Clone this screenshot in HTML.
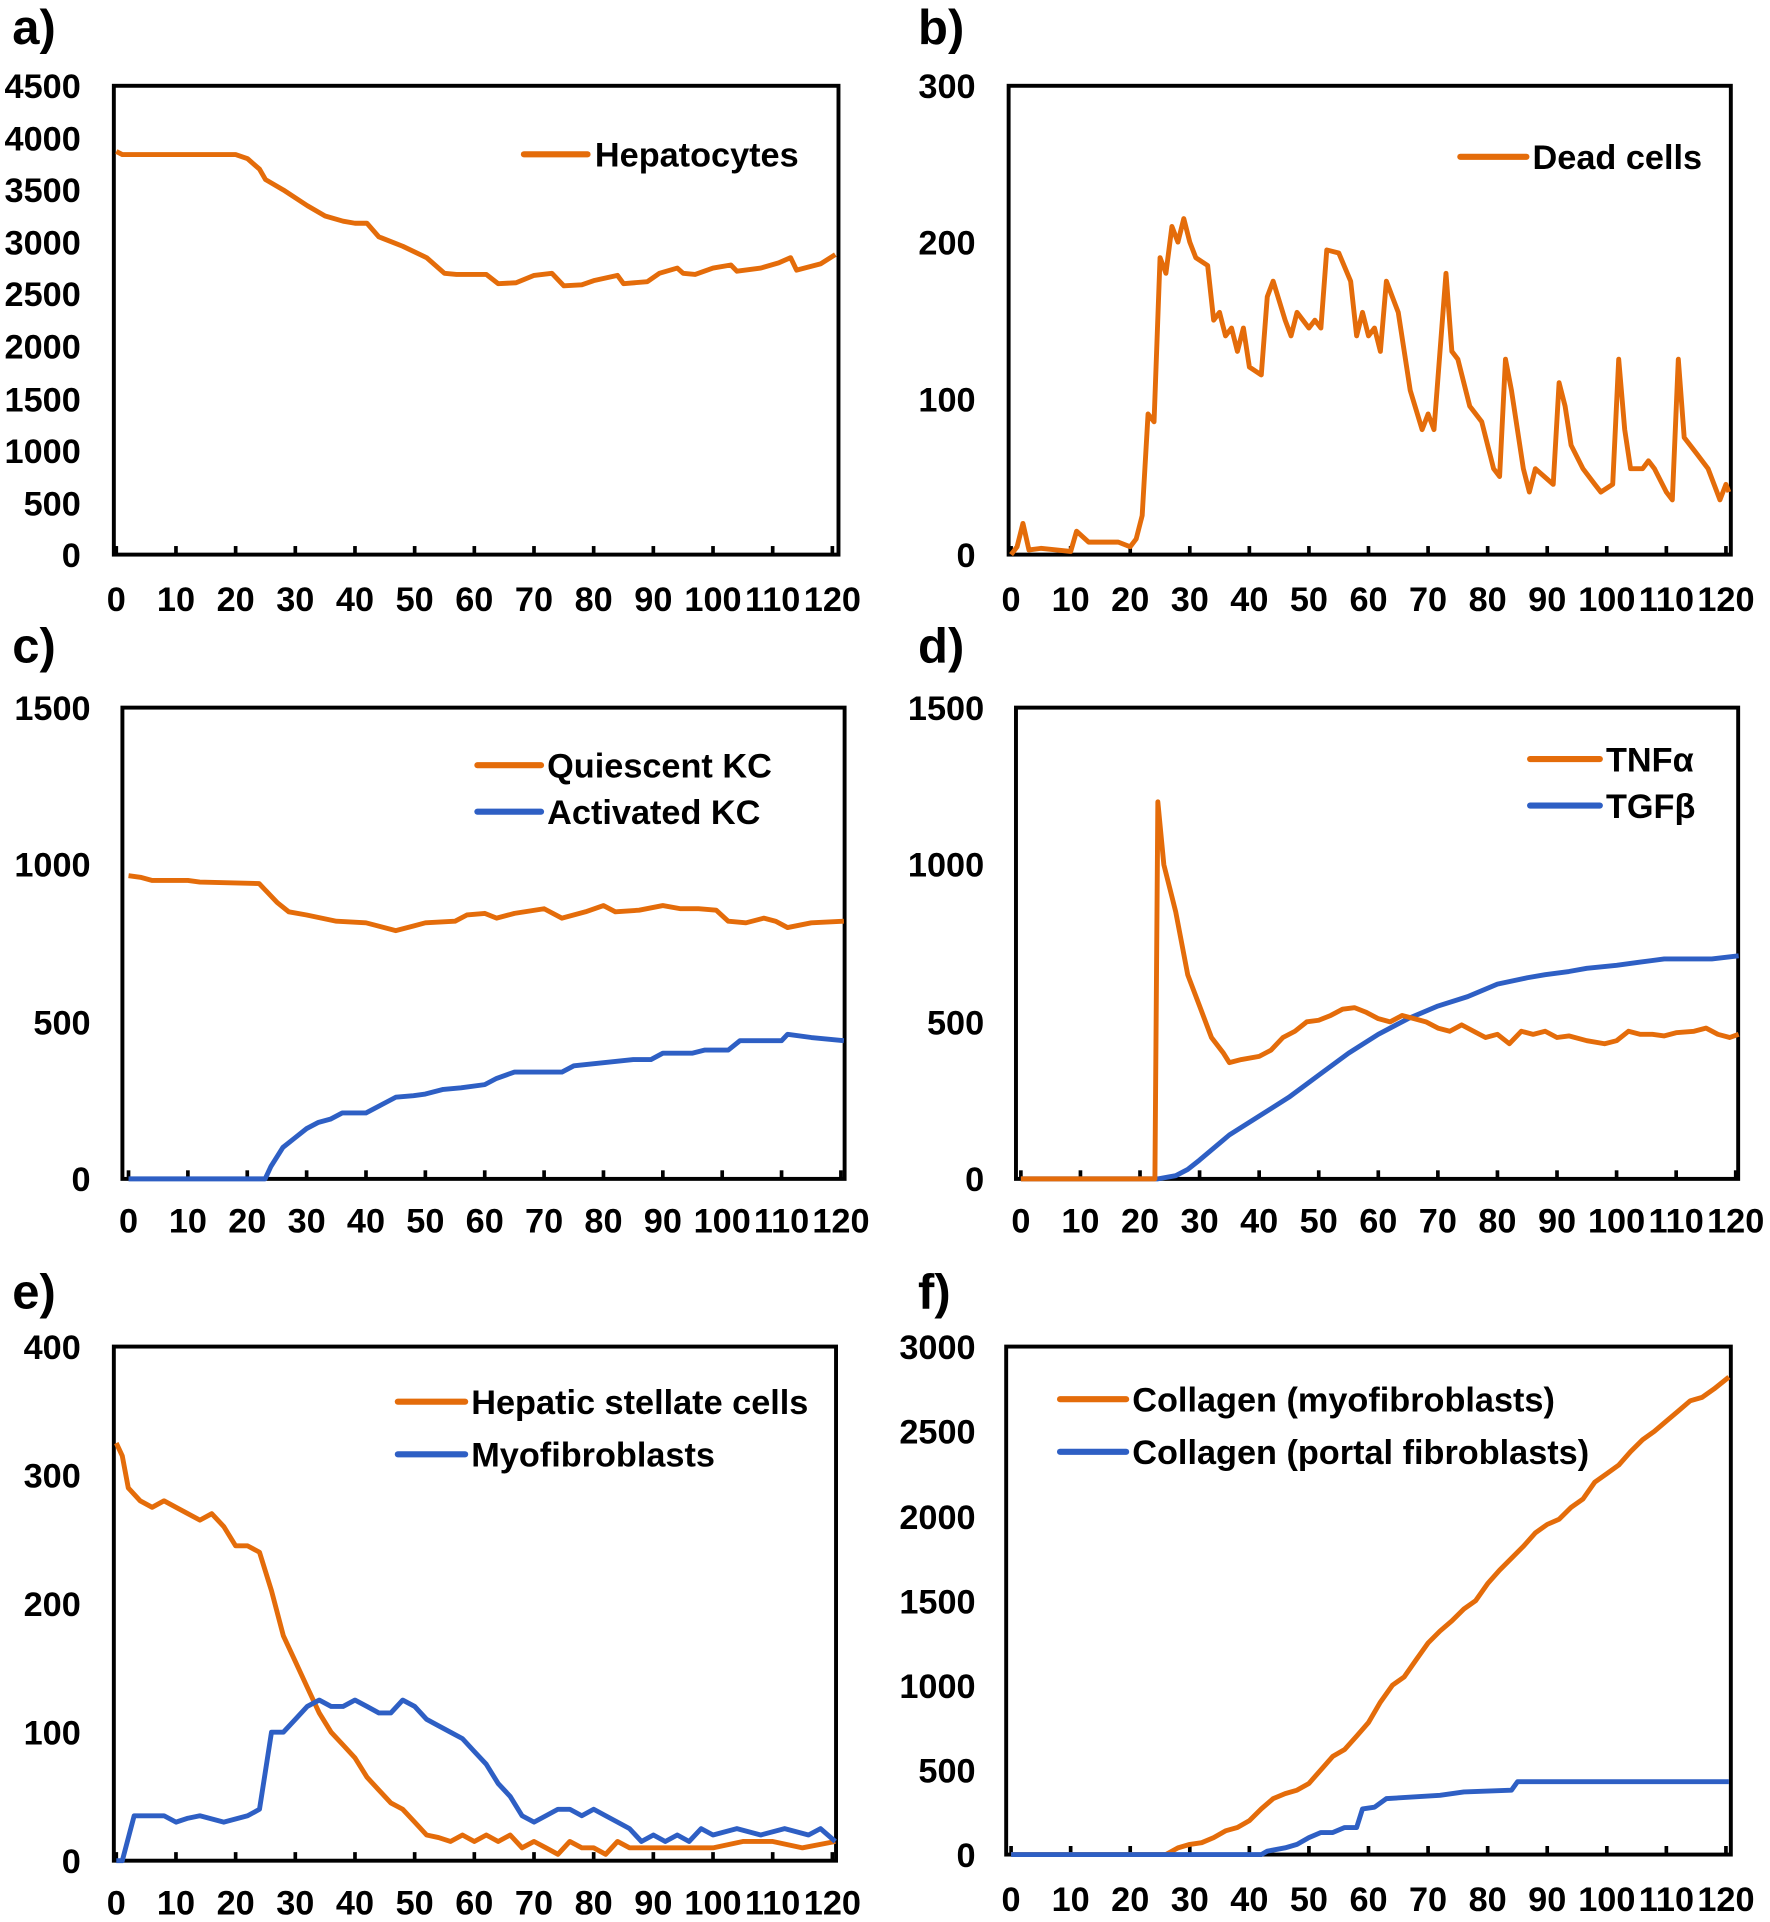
<!DOCTYPE html>
<html><head><meta charset="utf-8"><style>
html,body{margin:0;padding:0;background:#fff}
svg{display:block}
text{font-family:"Liberation Sans",Arial,sans-serif;font-weight:bold;fill:#000}
</style></head><body>
<svg id="s" width="1770" height="1922" viewBox="0 0 1446 1570" xmlns="http://www.w3.org/2000/svg">
<text x="10" y="36" font-size="40">a)</text>
<text x="750" y="36" font-size="40">b)</text>
<text x="10" y="541" font-size="40">c)</text>
<text x="750" y="541" font-size="40">d)</text>
<text x="10" y="1069" font-size="40">e)</text>
<text x="750" y="1069" font-size="40">f)</text>
<g font-size="28">
<text x="486" y="136">Hepatocytes</text>
<text x="1252" y="138">Dead cells</text>
<text x="447" y="635">Quiescent KC</text>
<text x="447" y="673">Activated KC</text>
<text x="1312" y="630">TNFα</text>
<text x="1312" y="668">TGFβ</text>
<text x="385" y="1155">Hepatic stellate cells</text>
<text x="385" y="1198">Myofibroblasts</text>
<text x="925" y="1153">Collagen (myofibroblasts)</text>
<text x="925" y="1196">Collagen (portal fibroblasts)</text>
</g>
<g font-size="28" text-anchor="end">
<text x="66" y="80">4500</text><text x="66" y="123">4000</text><text x="66" y="165">3500</text><text x="66" y="208">3000</text><text x="66" y="250">2500</text><text x="66" y="293">2000</text><text x="66" y="336">1500</text><text x="66" y="378">1000</text><text x="66" y="421">500</text><text x="66" y="463">0</text>
<text x="797" y="80">300</text><text x="797" y="208">200</text><text x="797" y="336">100</text><text x="797" y="463">0</text>
<text x="74" y="588">1500</text><text x="74" y="716">1000</text><text x="74" y="845">500</text><text x="74" y="973">0</text>
<text x="804" y="588">1500</text><text x="804" y="716">1000</text><text x="804" y="845">500</text><text x="804" y="973">0</text>
<text x="66" y="1110">400</text><text x="66" y="1215">300</text><text x="66" y="1320">200</text><text x="66" y="1425">100</text><text x="66" y="1530">0</text>
<text x="797" y="1110">3000</text><text x="797" y="1179">2500</text><text x="797" y="1249">2000</text><text x="797" y="1318">1500</text><text x="797" y="1387">1000</text><text x="797" y="1456">500</text><text x="797" y="1525">0</text>
</g>
<g id="xl" font-size="28" text-anchor="middle"></g>
<g id="plots"></g>
</svg>
<script>
const O="#e46c0a",B="#2e5fc4";
const P=[
{x0:93,x1:685,y0:70,y1:453,t0:95,t1:680,max:4500,ly:499,
 leg:[[428,480,126,O]],
 s:[[O,[[0,3870],[1,3840],[20,3840],[22,3800],[24,3700],[25,3600],[28,3500],[32,3350],[35,3250],[38,3200],[40,3180],[42,3180],[44,3050],[48,2960],[52,2850],[55,2700],[57,2690],[62,2690],[64,2600],[67,2610],[70,2680],[73,2700],[75,2580],[78,2590],[80,2630],[84,2680],[85,2600],[89,2620],[91,2700],[94,2750],[95,2700],[97,2690],[100,2750],[103,2780],[104,2720],[108,2750],[111,2800],[113,2850],[114,2730],[118,2790],[121,2880]]]]},
{x0:824,x1:1414,y0:70,y1:453,t0:826,t1:1410,max:300,ly:499,
 leg:[[1193,1247,128,O]],
 s:[[O,[[0,0],[1,5],[2,20],[3,3],[5,4],[10,2],[11,15],[13,8],[18,8],[20,5],[21,10],[22,25],[23,90],[24,85],[25,190],[26,180],[27,210],[28,200],[29,215],[30,200],[31,190],[33,185],[34,150],[35,155],[36,140],[37,145],[38,130],[39,145],[40,120],[42,115],[43,165],[44,175],[46,150],[47,140],[48,155],[50,145],[51,150],[52,145],[53,195],[55,193],[57,175],[58,140],[59,155],[60,140],[61,145],[62,130],[63,175],[65,155],[67,105],[69,80],[70,90],[71,80],[73,180],[74,130],[75,125],[77,95],[79,85],[81,55],[82,50],[83,125],[84,105],[86,55],[87,40],[88,55],[91,45],[92,110],[93,95],[94,70],[96,55],[98,45],[99,40],[101,45],[102,125],[103,80],[104,55],[106,55],[107,60],[108,55],[110,40],[111,35],[112,125],[113,75],[115,65],[117,55],[118,45],[119,35],[120,45],[121,40]]]]},
{x0:100,x1:690,y0:578,y1:963,t0:105,t1:687,max:1500,ly:1007,
 leg:[[390,442,625,O],[390,442,663,B]],
 s:[[O,[[0,965],[2,960],[4,950],[10,950],[12,945],[22,940],[23,920],[25,880],[27,850],[30,840],[35,820],[40,815],[45,790],[48,805],[50,815],[55,820],[57,840],[60,845],[62,830],[65,845],[70,860],[73,830],[77,850],[80,870],[82,850],[86,855],[90,870],[93,860],[96,860],[99,855],[101,820],[104,815],[107,830],[109,820],[111,800],[115,815],[121,820]]],
    [B,[[0,0],[23,0],[24,40],[26,100],[28,130],[30,160],[32,180],[34,190],[36,210],[40,210],[43,240],[45,260],[48,265],[50,270],[53,285],[56,290],[60,300],[62,320],[65,340],[73,340],[75,360],[85,380],[88,380],[90,400],[95,400],[97,410],[101,410],[103,440],[110,440],[111,460],[115,450],[121,440]]]]},
{x0:830,x1:1420,y0:578,y1:963,t0:834,t1:1418,max:1500,ly:1007,
 leg:[[1250,1307,620,O],[1250,1307,658,B]],
 s:[[B,[[0,0],[23,0],[26,10],[28,30],[30,60],[35,140],[40,200],[45,260],[50,330],[55,400],[60,460],[65,510],[70,550],[75,580],[80,620],[85,640],[88,650],[92,660],[95,670],[100,680],[104,690],[108,700],[112,700],[116,700],[121,710]]],
    [O,[[0,0],[22.5,0],[23,1200],[24,1000],[26,850],[28,650],[30,550],[32,450],[34,400],[35,370],[37,380],[40,390],[42,410],[44,450],[46,470],[48,500],[50,505],[52,520],[54,540],[56,545],[58,530],[60,510],[62,500],[64,520],[66,510],[68,500],[70,480],[72,470],[74,490],[76,470],[78,450],[80,460],[82,430],[84,470],[86,460],[88,470],[90,450],[92,455],[95,440],[98,430],[100,440],[102,470],[104,460],[106,460],[108,455],[110,465],[113,470],[115,480],[117,460],[119,450],[121,460]]]]},
{x0:93,x1:683,y0:1100,y1:1520,t0:95,t1:680,max:400,ly:1564,
 leg:[[325,380,1145,O],[325,380,1188,B]],
 s:[[O,[[0,325],[1,315],[2,290],[4,280],[6,275],[8,280],[10,275],[12,270],[14,265],[16,270],[18,260],[20,245],[22,245],[24,240],[26,210],[28,175],[30,155],[32,135],[34,115],[36,100],[38,90],[40,80],[42,65],[44,55],[46,45],[48,40],[50,30],[52,20],[54,18],[56,15],[58,20],[60,15],[62,20],[64,15],[66,20],[68,10],[70,15],[72,10],[74,5],[76,15],[78,10],[80,10],[82,5],[84,15],[86,10],[90,10],[95,10],[100,10],[105,15],[110,15],[115,10],[121,15]]],
    [B,[[0,0],[1,0],[3,35],[5,35],[8,35],[10,30],[12,33],[14,35],[18,30],[22,35],[24,40],[26,100],[28,100],[30,110],[32,120],[34,125],[36,120],[38,120],[40,125],[42,120],[44,115],[46,115],[48,125],[50,120],[52,110],[54,105],[56,100],[58,95],[60,85],[62,75],[64,60],[66,50],[68,35],[70,30],[72,35],[74,40],[76,40],[78,35],[80,40],[82,35],[84,30],[86,25],[88,15],[90,20],[92,15],[94,20],[96,15],[98,25],[100,20],[104,25],[108,20],[112,25],[116,20],[118,25],[121,15]]]]},
{x0:822,x1:1414,y0:1100,y1:1515,t0:826,t1:1410,max:3000,ly:1561,
 leg:[[866,920,1143,O],[866,920,1186,B]],
 s:[[O,[[0,0],[26,0],[28,40],[30,60],[32,70],[34,100],[36,140],[38,160],[40,200],[42,270],[44,330],[46,360],[48,380],[50,420],[52,500],[54,580],[56,620],[58,700],[60,780],[62,900],[64,1000],[66,1050],[68,1150],[70,1250],[72,1320],[74,1380],[76,1450],[78,1500],[80,1600],[82,1680],[84,1750],[86,1820],[88,1900],[90,1950],[92,1980],[94,2050],[96,2100],[98,2200],[100,2250],[102,2300],[104,2380],[106,2450],[108,2500],[110,2560],[112,2620],[114,2680],[116,2700],[118,2750],[121,2820]]],
    [B,[[0,0],[42,0],[43,20],[46,40],[48,60],[50,100],[52,130],[54,130],[56,160],[58,160],[59,270],[61,280],[63,330],[72,350],[76,370],[84,380],[85,430],[121,430]]]]}
];
const NS="http://www.w3.org/2000/svg",g=document.getElementById("plots"),xl=document.getElementById("xl");
function el(n,a,par){const e=document.createElementNS(NS,n);for(const k in a)e.setAttribute(k,a[k]);(par||g).appendChild(e);return e;}
P.forEach(p=>{
 const X=t=>p.t0+(p.t1-p.t0)*t/120, Y=v=>p.y1-(p.y1-p.y0)*v/p.max;
 el("rect",{x:p.x0,y:p.y0,width:p.x1-p.x0,height:p.y1-p.y0,fill:"none",stroke:"#000","stroke-width":3.2});
 for(let t=0;t<=120;t+=10){const x=X(t);el("line",{x1:x,x2:x,y1:p.y1,y2:p.y1-7,stroke:"#000","stroke-width":3});
  const tx=el("text",{x:x,y:p.ly},xl);tx.textContent=String(t);}
 p.s.forEach(([c,d])=>{el("polyline",{points:d.map(q=>X(Math.min(q[0],120.5)).toFixed(1)+","+Y(q[1]).toFixed(1)).join(" "),fill:"none",stroke:c,"stroke-width":4,"stroke-linejoin":"round"});});
 p.leg.forEach(([a,b,y,c])=>el("line",{x1:a,x2:b,y1:y,y2:y,stroke:c,"stroke-width":5,"stroke-linecap":"round"}));
});
</script>
</body></html>
